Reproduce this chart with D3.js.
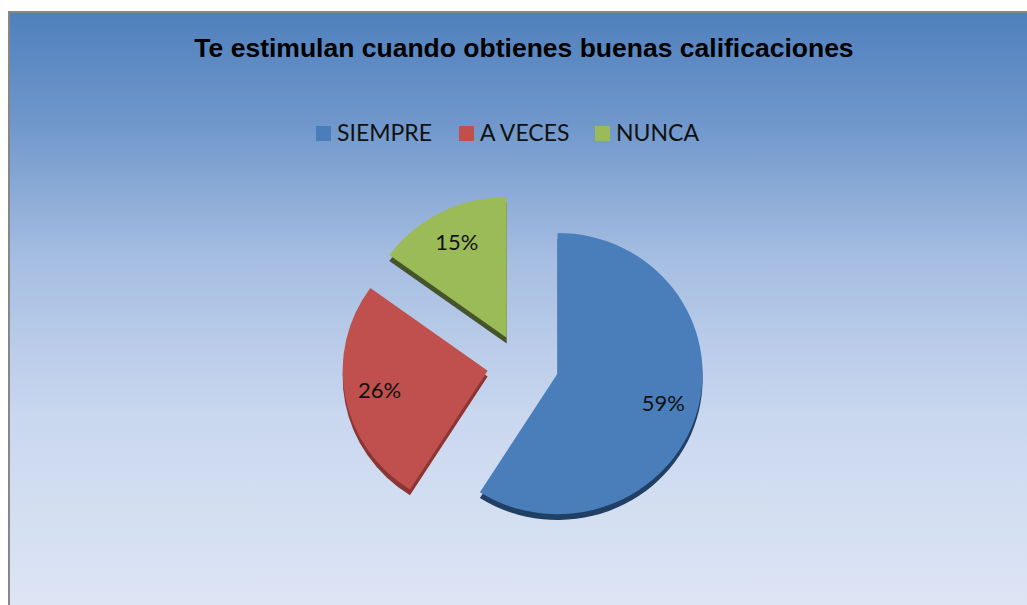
<!DOCTYPE html>
<html>
<head>
<meta charset="utf-8">
<script src="https://cdn.jsdelivr.net/npm/d3@7"></script>
<style>
  body { margin: 0; background: #fff; }
  svg { display: block; }
</style>
</head>
<body>
<script>
const TITLE = "Te estimulan cuando obtienes buenas calificaciones";
const CATEGORIES = ["SIEMPRE", "A VECES", "NUNCA"];
const VALUES = [59, 26, 15];
const COLORS = ["#4a7ebb", "#c0504d", "#9bbb59"];
const SIDES = ["#213f63", "#8c3633", "#45542a"];

const width = 1027, height = 605;

const svg = d3.select("body").append("svg")
  .attr("width", width)
  .attr("height", height);

// background gradient
let defs = svg.append("defs");
let bg = defs.append("linearGradient")
  .attr("id", "bg")
  .attr("x1", 0).attr("y1", 0).attr("x2", 0).attr("y2", 1);
[[0, "#4f80bd"], [0.18, "#7097cb"], [0.4, "#a6bee2"], [0.65, "#c9d7ef"], [1, "#e0e7f5"]]
  .forEach(s => bg.append("stop").attr("offset", s[0]).attr("stop-color", s[1]));

svg.append("rect")
  .attr("x", 9).attr("y", 12)
  .attr("width", 1040).attr("height", 620)
  .attr("fill", "url(#bg)")
  .attr("stroke", "#878787")
  .attr("stroke-width", 2);

svg.append("text")
  .attr("x", 524).attr("y", 57)
  .attr("text-anchor", "middle")
  .style("font-family", "'Liberation Sans', Arial, sans-serif")
  .style("font-weight", "bold")
  .style("font-size", "26.5px")
  .text(TITLE);

// legend
const legendX = [316, 459, 595];
let legend = svg.append("g");
CATEGORIES.forEach((c, i) => {
  legend.append("rect")
    .attr("x", legendX[i]).attr("y", 126)
    .attr("width", 15).attr("height", 15)
    .attr("fill", COLORS[i]);
  legend.append("text")
    .attr("x", legendX[i] + 21).attr("y", 141)
    .style("font-family", "Lato, 'Open Sans', sans-serif")
    .style("font-size", "23px")
    .attr("fill", "#111")
    .text(c);
});

// pie
let cx = 523, cy = 365, radius = 145, explode = 36, depth = 6;

let pie = d3.pie().sort(null).value(d => d);
let arcs = pie(VALUES);
let arc = d3.arc().innerRadius(0).outerRadius(radius);
let labelArc = d3.arc().innerRadius(110).outerRadius(110);

let pieG = svg.append("g");

arcs.forEach((a, i) => {
  let mid = (a.startAngle + a.endAngle) / 2;
  let ox = cx + Math.sin(mid) * explode;
  let oy = cy - Math.cos(mid) * explode * 0.85;

  let g = pieG.append("g")
    .attr("transform", `translate(${ox},${oy}) scale(1,0.97)`);

  g.append("path")
    .attr("d", arc(a))
    .attr("transform", `translate(0,${depth})`)
    .attr("fill", SIDES[i]);

  g.append("path")
    .attr("d", arc(a))
    .attr("fill", COLORS[i]);

  let [lx, ly] = labelArc.centroid(a);
  g.append("text")
    .attr("x", lx).attr("y", ly)
    .attr("text-anchor", "middle")
    .attr("dy", "0.35em")
    .style("font-family", "Lato, 'Open Sans', sans-serif")
    .style("font-size", "22px")
    .attr("fill", "#111")
    .text(VALUES[i] + "%");
});
</script>
</body>
</html>
